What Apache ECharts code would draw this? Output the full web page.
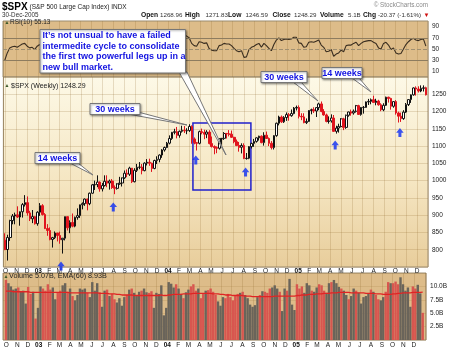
<!DOCTYPE html>
<html><head><meta charset="utf-8">
<script src="https://cdn.jsdelivr.net/npm/echarts@6/dist/echarts.min.js"></script>
<style>html,body{margin:0;padding:0;background:#fff;}#c{width:450px;height:349px;}</style>
</head><body><div id="c"></div>
<script>
// ---- DATA (weekly $SPX, week of 30-Sep-2002 .. week of 26-Dec-2005) ----
const firstWeekMonday = [2002, 8, 30];
const opens = [827.4,800.6,835.3,884.4,897.7,901.0,894.7,909.8,930.6,936.3,906.6,889.5,895.8,875.4,
908.6,927.6,901.8,861.4,855.7,829.7,834.9,848.2,841.2,828.9,833.3,895.8,863.5,878.9,868.3,893.6,898.8,930.1,933.4,946.7,933.2,963.6,987.8,988.6,995.7,976.2,985.7,998.1,993.3,998.7,980.2,977.6,990.7,993.1,1008.0,1021.4,1018.6,1036.3,996.9,1029.9,1038.7,1039.3,1028.9,1050.7,1053.2,1050.4,1035.3,1058.2,1061.5,1074.1,1088.7,1095.9,
1108.5,1121.9,1139.8,1141.6,1131.1,1142.8,1145.8,1144.1,1144.9,1156.9,1120.6,1109.8,1108.1,1141.8,1139.3,1134.6,1140.6,1107.3,1098.7,1095.7,1093.6,1120.7,1122.5,1136.5,1135.0,1134.4,1125.4,1112.8,1101.4,1096.8,1101.7,1064.0,1064.8,1098.6,1107.8,1113.6,1123.9,1128.6,1110.1,1131.5,1122.1,1108.2,1095.7,1130.2,1166.2,1184.2,1170.3,1182.7,1191.2,1188.0,1194.2,1210.1,
1211.9,1186.2,1184.5,1167.9,1171.4,1203.0,1205.3,1201.6,1211.4,1222.1,1200.1,1190.2,1171.4,1172.9,1181.2,1142.6,1152.1,1156.9,1178.8,1154.1,1189.3,1198.8,1196.0,1200.9,1217.0,1191.6,1211.9,1211.9,1227.9,1229.4,1234.2,1226.4,1230.4,1219.7,1205.1,1218.0,1241.5,1237.9,1215.3,1228.8,1195.9,1186.6,1179.6,1198.4,1220.1,1234.7,1248.3,1268.3,1265.1,1259.4,1267.3,1268.96];
const highs = [847.6,843.3,886.7,903.4,907.4,925.7,911.0,935.0,958.0,954.3,912.6,915.0,897.8,911.3,
935.0,932.0,906.0,874.0,864.6,837.2,852.9,849.0,852.3,834.0,896.0,895.8,885.0,904.9,896.0,919.7,930.6,937.0,948.2,947.5,965.4,990.1,1000.0,1015.3,997.8,993.0,1015.4,1015.4,1003.0,1004.6,986.0,992.5,1011.0,1009.0,1029.3,1032.4,1040.3,1036.3,1036.0,1048.3,1053.8,1048.0,1053.1,1062.4,1063.6,1052.0,1060.6,1070.5,1076.0,1091.0,1098.5,1112.0,
1131.0,1141.0,1150.1,1155.4,1145.0,1158.9,1158.0,1151.7,1163.2,1159.9,1125.0,1112.0,1144.8,1150.6,1147.3,1146.0,1146.0,1127.7,1102.0,1099.0,1122.4,1123.0,1140.5,1138.0,1146.3,1145.0,1127.0,1119.0,1112.0,1108.0,1108.0,1080.0,1100.0,1109.7,1120.8,1125.3,1130.0,1131.0,1140.1,1142.1,1125.0,1114.5,1131.4,1167.9,1188.0,1188.5,1186.6,1197.5,1196.0,1206.0,1213.0,1217.3,
1217.8,1195.0,1195.0,1180.0,1204.1,1208.4,1212.4,1212.2,1225.7,1229.1,1207.0,1194.0,1186.0,1191.9,1190.0,1159.0,1164.8,1181.0,1182.0,1191.1,1199.6,1205.6,1206.0,1219.1,1219.6,1213.0,1216.0,1229.0,1236.6,1237.8,1245.9,1237.0,1234.0,1224.0,1224.0,1243.1,1243.0,1240.0,1229.9,1233.3,1199.7,1197.0,1204.0,1224.7,1235.7,1249.6,1270.0,1272.9,1273.0,1275.8,1275.8,1271.83];
const lows = [798.6,768.6,825.6,873.6,873.7,892.0,869.5,893.1,925.0,898.8,883.1,877.0,872.8,869.5,
898.0,899.0,859.7,840.3,827.3,806.3,831.0,824.0,817.4,788.9,827.0,855.7,847.9,865.0,865.0,887.0,892.0,916.8,927.0,914.0,929.0,962.0,973.0,981.0,968.0,968.7,983.0,981.0,974.0,976.0,960.8,974.0,988.0,983.0,1005.0,1010.0,1013.6,993.0,995.0,1025.0,1033.0,1018.3,1027.0,1044.0,1043.0,1025.2,1033.0,1048.0,1053.0,1066.0,1084.0,1094.0,
1105.0,1118.0,1134.0,1122.4,1124.3,1139.0,1138.0,1134.4,1141.0,1106.8,1105.2,1087.2,1105.0,1134.0,1120.0,1123.0,1105.0,1096.0,1076.3,1079.4,1090.0,1102.0,1118.0,1122.0,1128.0,1124.0,1108.0,1100.0,1083.9,1078.8,1062.2,1060.7,1062.0,1093.0,1098.0,1110.0,1116.0,1108.0,1101.3,1121.0,1100.0,1090.2,1090.2,1127.0,1160.0,1167.0,1167.0,1173.0,1173.5,1185.0,1192.0,1203.0,
1180.0,1175.0,1166.0,1163.8,1170.0,1192.0,1196.0,1184.2,1204.0,1198.0,1188.0,1168.7,1165.0,1168.0,1141.0,1136.2,1139.0,1154.0,1146.2,1150.0,1185.0,1188.0,1191.0,1197.0,1190.5,1188.0,1194.0,1211.0,1219.0,1221.0,1225.0,1218.0,1217.0,1201.0,1201.0,1216.0,1226.0,1205.4,1211.0,1191.0,1168.2,1170.0,1176.0,1196.0,1216.0,1225.0,1246.0,1246.0,1255.0,1256.0,1258.0,1246.59];
const closes = [800.6,835.3,884.4,897.7,901.0,894.7,909.8,930.6,936.3,906.6,889.5,895.8,875.4,908.6,
927.6,901.8,861.4,855.7,829.7,834.9,848.2,841.2,828.9,833.3,895.8,863.5,878.9,868.3,893.6,898.8,930.1,933.4,946.7,933.2,963.6,987.8,988.6,995.7,976.2,985.7,998.1,993.3,998.7,980.2,977.6,990.7,993.1,1008.0,1021.4,1018.6,1036.3,996.9,1029.9,1038.7,1039.3,1028.9,1050.7,1053.2,1050.4,1035.3,1058.2,1061.5,1074.1,1088.7,1095.9,1108.5,
1121.9,1139.8,1141.6,1131.1,1142.8,1145.8,1144.1,1144.9,1156.9,1120.6,1109.8,1108.1,1141.8,1139.3,1134.6,1140.6,1107.3,1098.7,1095.7,1093.6,1120.7,1122.5,1136.5,1135.0,1134.4,1125.4,1112.8,1101.4,1096.8,1101.7,1064.0,1064.8,1098.6,1107.8,1113.6,1123.9,1128.6,1110.1,1131.5,1122.1,1108.2,1095.7,1130.2,1166.2,1184.2,1170.3,1182.7,1191.2,1188.0,1194.2,1210.1,1211.9,
1186.2,1184.5,1167.9,1171.4,1203.0,1205.3,1201.6,1211.4,1222.1,1200.1,1190.2,1171.4,1172.9,1181.2,1142.6,1152.1,1156.9,1178.8,1154.1,1189.3,1198.8,1196.0,1200.9,1217.0,1191.6,1211.9,1211.9,1227.9,1229.4,1234.2,1226.4,1230.4,1219.7,1205.1,1218.0,1241.5,1237.9,1215.3,1228.8,1195.9,1186.6,1179.6,1198.4,1220.1,1234.7,1248.3,1268.3,1265.1,1259.4,1267.3,1268.7,1248.29];
// weekly volume, billions
const volumes = [11.2,10.6,10.0,9.4,9.6,9.8,9.0,9.2,6.8,9.9,8.6,9.0,4.0,6.0,
10.0,9.6,9.2,10.4,9.4,9.8,7.6,8.8,9.2,10.2,10.6,9.0,9.6,8.2,7.4,8.4,9.6,9.4,9.6,8.8,8.0,10.8,9.2,10.6,8.9,6.2,9.2,9.4,8.2,8.6,7.6,7.0,7.8,6.4,8.0,8.4,9.4,9.6,8.8,8.2,9.0,9.2,9.6,8.9,8.8,9.1,6.0,8.8,8.6,10.2,4.6,6.0,
10.8,10.5,9.8,10.4,9.6,8.6,7.8,8.9,9.4,10.0,10.4,9.2,9.6,7.8,8.7,9.2,9.3,9.6,9.0,8.4,7.2,6.4,8.0,7.8,8.6,8.0,7.4,8.2,8.6,8.8,9.0,8.4,7.8,6.6,6.2,6.5,8.0,8.4,9.1,9.0,8.8,9.6,9.8,10.2,9.6,9.0,5.4,9.6,9.2,11.4,6.6,5.6,
10.4,9.6,10.0,8.8,10.6,10.2,9.2,9.0,9.8,10.4,10.2,9.2,8.8,10.6,10.8,11.2,10.6,9.9,9.6,9.2,8.4,7.6,8.2,9.6,9.2,8.8,6.8,8.0,8.2,8.6,9.4,9.0,8.4,7.6,7.4,8.0,9.0,10.8,10.6,10.6,10.9,10.4,11.7,10.4,9.2,9.8,6.2,10.0,9.6,10.3,8.7,5.07];
// EMA(60) of volume, billions
const volumeEma = [9.1,9.1,9.1,9.0,9.0,9.0,9.0,9.0,9.0,9.0,8.9,8.9,8.9,8.9,
8.9,8.9,8.9,8.9,8.9,8.9,8.9,8.9,8.9,8.9,8.9,8.9,8.8,8.8,8.8,8.8,
8.8,8.8,8.8,8.8,8.8,8.8,8.8,8.8,8.7,8.7,8.7,8.7,8.6,8.6,8.6,8.5,8.5,8.4,8.4,8.4,
8.4,8.4,8.3,8.3,8.3,8.3,8.3,8.3,8.3,8.3,8.3,8.3,8.3,8.4,8.3,8.3,8.4,8.4,8.5,8.5,
8.5,8.5,8.6,8.6,8.6,8.6,8.7,8.7,8.7,8.7,8.7,8.7,8.7,8.7,8.6,8.6,8.6,8.5,8.5,8.4,
8.4,8.4,8.3,8.3,8.3,8.3,8.3,8.2,8.2,8.2,8.1,8.1,8.1,8.1,8.1,8.1,8.1,8.1,8.1,8.2,
8.2,8.2,8.2,8.2,8.2,8.2,8.2,8.2,8.3,8.3,8.4,8.4,8.4,8.5,8.5,8.5,8.6,8.6,8.6,8.7,
8.7,8.7,8.8,8.8,8.8,8.9,8.9,8.9,8.9,8.9,8.8,8.8,8.8,8.8,8.8,8.8,8.7,8.7,8.7,8.7,
8.6,8.6,8.6,8.5,8.5,8.5,8.5,8.6,8.6,8.7,8.7,8.8,8.8,8.8,8.8,8.9,8.9,8.9,8.9,8.93];
// RSI(10)
const rsi10 = [30,43,52,54,55,53,56,59,60,55,52,53,49,55,
58,52,45,44,40,42,45,44,41,43,55,50,53,51,55,56,62,63,66,62,67,72,72,73,67,69,71,70,71,65,64,67,67,70,73,71,74,63,69,70,70,67,71,71,70,65,70,71,73,76,78,80,
82,84,84,80,81,81,76,73,70,60,56,55,63,62,60,61,51,48,47,47,56,57,60,59,59,56,51,47,45,47,35,36,49,53,55,58,60,53,60,56,51,47,58,66,70,65,67,68,67,68,71,71,
61,60,53,54,62,63,62,64,66,57,53,45,46,49,37,41,43,48,45,56,57,57,60,62,56,60,63,64,65,65,62,60,52,50,60,62,57,49,52,43,41,42,50,58,63,67,69,66,65,67,68,55.13];
const monthLetters = ['J','F','M','A','M','J','J','A','S','O','N','D'];
// blue arrows (date, price) and the boxed "failed cycle" area
const arrowDates = ['2003-03-06','2003-07-31','2004-03-19','2004-08-06','2005-04-15','2005-10-14'];
const arrowPrices = [753, 924, 1060, 1025, 1103, 1139];
const boxDates = ['2004-03-11','2004-08-21'];
const boxPrices = [1167, 973];

// ---- helpers ----
const DAY = 86400000;
function d(s){ const p = s.split('-'); return new Date(+p[0], +p[1]-1, +p[2]).getTime(); }
const weekTimes = closes.map((_, i) => new Date(firstWeekMonday[0], firstWeekMonday[1], firstWeekMonday[2] + 7*i).getTime());
const FONT = '"Liberation Sans", Arial, sans-serif';
const tMin = d('2002-09-25'), tMax = d('2006-01-01');

function monthLabel(v){
  if (v <= tMin + 2*DAY || v >= tMax - 2*DAY) return '';
  const dt = new Date(v); const m = dt.getMonth();
  if (m === 0) return '{y|' + String(dt.getFullYear()).slice(2) + '}';
  return monthLetters[m];
}
function xAxisFor(gi, showLabel, margin){
  return {type:'time', gridIndex:gi, min:tMin, max:tMax, minInterval:28*DAY, maxInterval:31*DAY, splitNumber:40,
    axisLine:{show:false}, axisTick:{show:false},
    splitLine:{show:true, lineStyle:{color:'rgba(140,100,40,0.20)', width:1}},
    axisLabel:{show:showLabel, formatter:monthLabel, fontSize:6.5, fontFamily:FONT, color:'#222', margin:margin,
      showMinLabel:false, showMaxLabel:false, hideOverlap:false,
      rich:{y:{fontWeight:'bold', fontSize:6.5, fontFamily:FONT, color:'#111'}}}};
}
const candleData = weekTimes.map((t,i) => [t, opens[i], closes[i], lows[i], highs[i]]);
const volData = weekTimes.map((t,i) => {
  const down = i === 0 ? closes[i] < opens[i] : closes[i] < closes[i-1];
  return {value:[t, volumes[i]], itemStyle:{color: down ? '#d8564f' : '#6a645a'}};
});
const emaData = weekTimes.map((t,i) => [t, volumeEma[i]]);
const rsiData = weekTimes.map((t,i) => [t, rsi10[i]]);
const arrowData = arrowDates.map((s,i) => [d(s), arrowPrices[i]]);

function txt(x, y, text, font, color, align, z){
  return {type:'text', x:x, y:y, z:z||50, silent:true,
    style:{text:text, font:font, fill:color||'#222', align:align||'left', verticalAlign:'middle'}};
}
function callout(bx, by, w, h, lines, poly, fontSize){
  const els = [];
  els.push({type:'polygon', z:60, silent:true, shape:{points:poly},
    style:{fill:'#ffffff', stroke:'#777', lineWidth:1}});
  els.push({type:'rect', z:61, silent:true, shape:{x:bx, y:by, width:w, height:h},
    style:{fill:'#ffffff', stroke:'#777', lineWidth:1, shadowBlur:2, shadowOffsetX:1, shadowOffsetY:1, shadowColor:'rgba(0,0,0,0.35)'}});
  const lh = lines.length > 1 ? 10.6 : 0;
  lines.forEach((ln, i) => {
    els.push({type:'text', z:62, silent:true, x: lines.length > 1 ? bx + 2.5 : bx + w/2, y: by + (lines.length>1 ? 6 : h/2 + 0.5) + i*lh,
      style:{text:ln, font:'bold ' + fontSize + 'px ' + FONT, fill:'#1212e0', align: lines.length>1 ? 'left':'center', verticalAlign:'middle'}});
  });
  return els;
}

const chart = echarts.init(document.getElementById('c'), null, {renderer:'canvas'});
const gridCommon = {left:3, right:22, show:true, borderColor:'#9b8b6e', borderWidth:1};
const priceBg = new echarts.graphic.LinearGradient(0,0,0,1,[{offset:0,color:'#fdf9e7'},{offset:0.55,color:'#f5e6c2'},{offset:1,color:'#e8cd9b'}]);

const graphics = [
  txt(2, 7.5, '{a|$SPX} {b|(S&P 500 Large Cap Index) INDX}', '7px ' + FONT, '#222'),
  txt(2, 15, '30-Dec-2005', '6.3px ' + FONT, '#333'),
  txt(428, 5, '© StockCharts.com', '6.3px ' + FONT, '#8a8a8a', 'right'),
  txt(4.5, 22.5, '▲', '5px ' + FONT, '#3d5a2a'),
  txt(10, 22.5, 'RSI(10) 55.13', '6.5px ' + FONT, '#222'),
  txt(4.5, 86, '▲', '5px ' + FONT, '#3d5a2a'),
  txt(11, 86, '$SPX (Weekly) 1248.29', '7px ' + FONT, '#222'),
  txt(3.5, 276.5, '▲', '5px ' + FONT, '#3d5a2a'),
  txt(9, 276.5, 'Volume 5.07B, EMA(60) 8.93B', '7.2px ' + FONT, '#222')
];
graphics[0].style.rich = {a:{font:'bold 10px ' + FONT, fill:'#000'}, b:{font:'6.5px ' + FONT, fill:'#222'}};
const hdr = [[141,'Open',1],[160,'1268.96',0],[185,'High',1],[205.5,'1271.83',0],[228,'Low',1],[245.5,'1246.59',0],
  [272.5,'Close',1],[294,'1248.29',0],[320,'Volume',1],[348,'5.1B',0],[363,'Chg',1],[378,'-20.37 (-1.61%)',0]];
hdr.forEach(h => graphics.push(txt(h[0], 15, h[1], h[2] ? 'bold 6.7px ' + FONT : '6.2px ' + FONT, h[2] ? '#111' : '#333')));
graphics.push(txt(423.5, 15, '▼', '6px ' + FONT, '#d01010'));
[].push.apply(graphics, callout(40, 29.5, 145.5, 43.5,
  ['It’s not unsual to have a failed','intermedite cycle to consolidate','the first two powerful legs up in a','new bull market.'],
  [[179,72],[187,72],[226,155]], 9));
[].push.apply(graphics, callout(90, 103.5, 50, 11, ['30 weeks'], [[128,114],[138,112],[187,125]], 9));
[].push.apply(graphics, callout(35, 152.5, 45, 11, ['14 weeks'], [[70,163],[78,163],[93,175]], 9));
[].push.apply(graphics, callout(261, 71.5, 46, 11, ['30 weeks'], [[293,82],[301,82],[318,101]], 9));
[].push.apply(graphics, callout(322, 67.5, 40, 11, ['14 weeks'], [[352,78],[359,78],[371,92]], 9));

const option = {
  animation:false,
  backgroundColor:'#ffffff',
  grid:[
    Object.assign({top:21, height:56, backgroundColor:'#ddbc89'}, gridCommon),
    Object.assign({top:77, height:190, backgroundColor:priceBg}, gridCommon),
    Object.assign({top:273, height:67, backgroundColor:'#ddbc89'}, gridCommon)
  ],
  xAxis:[ xAxisFor(0,false,0), xAxisFor(1,true,1), xAxisFor(2,true,1.5) ],
  yAxis:[
    {type:'value', gridIndex:0, position:'right', min:0, max:100, interval:10,
      axisLine:{show:false}, axisTick:{show:false}, splitLine:{show:false},
      axisLabel:{fontSize:6.5, fontFamily:FONT, color:'#222', margin:4,
        formatter:v => (v % 20 === 10 ? String(v) : '')}},
    {type:'value', gridIndex:1, position:'right', min:750, max:1300, interval:50,
      axisLine:{show:false}, axisTick:{show:false},
      splitLine:{show:true, lineStyle:{color:'rgba(140,100,40,0.20)'}},
      axisLabel:{fontSize:6.5, fontFamily:FONT, color:'#222', margin:4, showMinLabel:false, showMaxLabel:false,
        formatter:v => String(v)}},
    {type:'value', gridIndex:2, position:'right', min:0, max:12.5, interval:2.5,
      axisLine:{show:false}, axisTick:{show:false},
      splitLine:{show:true, lineStyle:{color:'rgba(140,100,40,0.15)'}},
      axisLabel:{fontSize:6.5, fontFamily:FONT, color:'#222', margin:4, showMaxLabel:false,
        formatter:v => (v === 0 ? '' : v.toFixed(1) + 'B')}}
  ],
  series:[
    {type:'line', name:'RSI', xAxisIndex:0, yAxisIndex:0, data:rsiData, showSymbol:false, silent:true,
      lineStyle:{color:'#3a2e20', width:1.1},
      markLine:{silent:true, symbol:'none', label:{show:false},
        lineStyle:{color:'#8d7c5f', width:1, type:'solid'},
        data:[{yAxis:70},{yAxis:30},{yAxis:50, lineStyle:{type:'dashed', color:'#a08f70'}}]}},
    {type:'candlestick', name:'SPX', xAxisIndex:1, yAxisIndex:1, data:candleData, barWidth:2.2,
      itemStyle:{color:'#ffffff', color0:'#e0141e', borderColor:'#111111', borderColor0:'#e0141e', borderWidth:1},
      markArea:{silent:true, itemStyle:{color:'rgba(0,0,0,0)', borderColor:'#2020cc', borderWidth:1.5},
        data:[[{xAxis:d(boxDates[0]), yAxis:boxPrices[0]},{xAxis:d(boxDates[1]), yAxis:boxPrices[1]}]]}},
    {type:'scatter', name:'arrows', xAxisIndex:1, yAxisIndex:1, data:arrowData, clip:false, z:20, silent:true,
      symbol:'path://M5,0L10,5.2L7,5.2L7,10L3,10L3,5.2L0,5.2Z', symbolSize:[7.5,9],
      itemStyle:{color:'#0b2cf5'}},
    {type:'bar', name:'Volume', xAxisIndex:2, yAxisIndex:2, data:volData, barWidth:2.4, silent:true},
    {type:'line', name:'EMA60', xAxisIndex:2, yAxisIndex:2, data:emaData, showSymbol:false, silent:true, z:5,
      lineStyle:{color:'#e02424', width:1.3}}
  ],
  graphic:{elements:graphics}
};
chart.setOption(option);
</script>
</body></html>
